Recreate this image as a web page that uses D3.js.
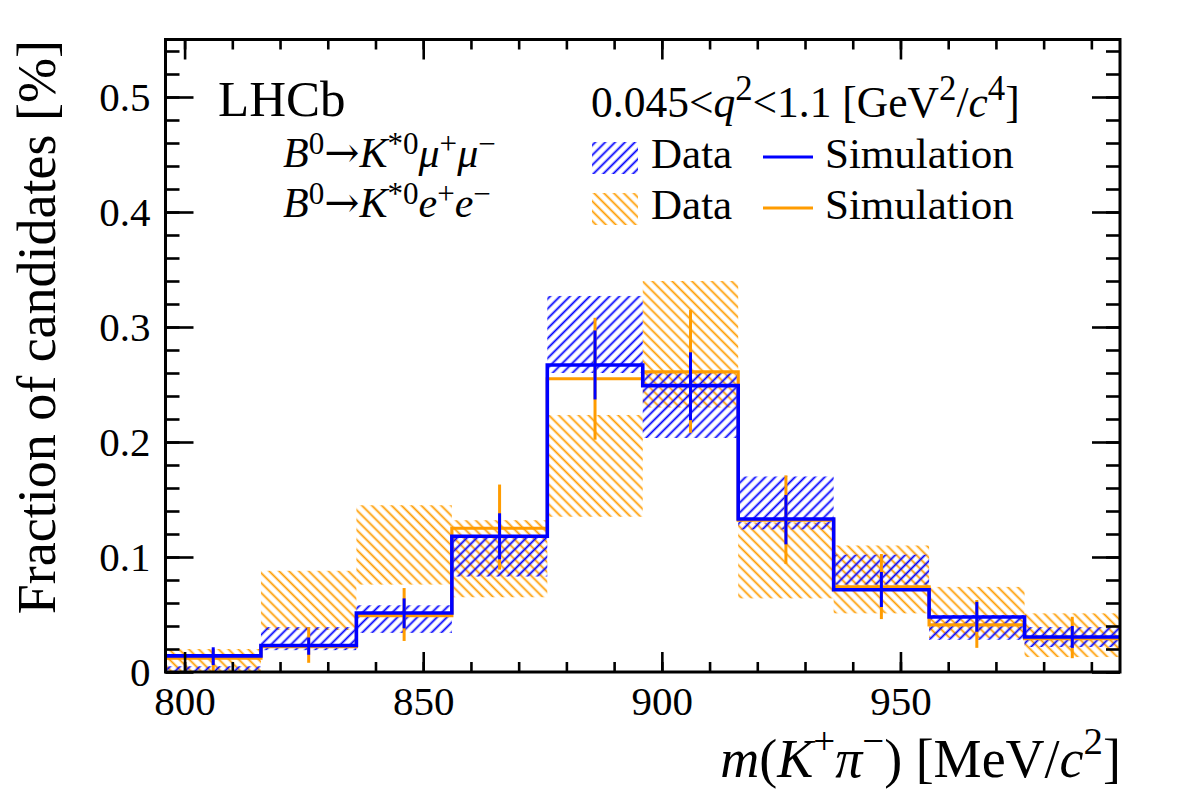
<!DOCTYPE html>
<html>
<head>
<meta charset="utf-8">
<script src="https://cdn.jsdelivr.net/npm/d3@7"></script>
<style>
  html, body { margin: 0; padding: 0; background: #fff; }
  svg { display: block; font-family: "Liberation Serif", "Times New Roman", serif; }
</style>
</head>
<body>
<svg id="chart" width="1182" height="800"></svg>
<script>
// ---------------- data ----------------
const binEdges = [796, 816, 836, 856, 876, 896, 916, 936, 956, 976, 996];

// B0 -> K*0 mu+ mu-  (blue)
const muSim    = [0.0140, 0.0230, 0.0513, 0.1180, 0.2670, 0.2490, 0.1330, 0.0715, 0.0478, 0.0304];
const muSimLo  = [0.0060, 0.0150, 0.0380, 0.0980, 0.2370, 0.2190, 0.1110, 0.0565, 0.0350, 0.0210];
const muSimHi  = [0.0215, 0.0300, 0.0640, 0.1380, 0.2970, 0.2780, 0.1540, 0.0870, 0.0610, 0.0400];
const muDataLo = [0.0000, 0.0190, 0.0340, 0.0830, 0.2600, 0.2035, 0.1240, 0.0760, 0.0280, 0.0217];
const muDataHi = [0.0050, 0.0390, 0.0580, 0.1190, 0.3270, 0.2610, 0.1700, 0.1020, 0.0496, 0.0390];

// B0 -> K*0 e+ e-  (orange)
const eeSim    = [0.0120, 0.0220, 0.0490, 0.1250, 0.2550, 0.2610, 0.1320, 0.0740, 0.0410, 0.0290];
const eeSimLo  = [0.0000, 0.0080, 0.0270, 0.0890, 0.2020, 0.2080, 0.0940, 0.0460, 0.0210, 0.0120];
const eeSimHi  = [0.0200, 0.0390, 0.0730, 0.1630, 0.3080, 0.3150, 0.1710, 0.1026, 0.0626, 0.0480];
const eeDataLo = [0.0000, 0.0365, 0.0760, 0.0650, 0.1350, 0.2300, 0.0640, 0.0510, 0.0296, 0.0130];
const eeDataHi = [0.0200, 0.0880, 0.1450, 0.1320, 0.2235, 0.3400, 0.1300, 0.1100, 0.0740, 0.0510];

const xMajorTicks = [800, 850, 900, 950];
const yMajorTicks = [0, 0.1, 0.2, 0.3, 0.4, 0.5];
const yTickLabels = ["0", "0.1", "0.2", "0.3", "0.4", "0.5"];

// ---------------- setup ----------------
const BLUE = "#0000ff";
const ORANGE = "#ff9c00";
const FONT = "Liberation Serif";

const svg = d3.select("#chart");
const L = 165.5, R = 1120, T = 39.5, B = 672;
const x = d3.scaleLinear().domain([796, 996]).range([L, R]);
const y = d3.scaleLinear().domain([0, 0.55]).range([B, T]);

// hatch patterns
const defs = svg.append("defs");
function hatch(id, color, angle) {
  const s = 7;
  const p = defs.append("pattern")
    .attr("id", id).attr("patternUnits", "userSpaceOnUse")
    .attr("width", s).attr("height", s)
    .attr("patternTransform", `rotate(${angle})`);
  p.append("line").attr("x1", s / 2).attr("y1", 0).attr("x2", s / 2).attr("y2", s)
    .attr("stroke", color).attr("stroke-width", 1.8);
}
hatch("hBlue", BLUE, 45);
hatch("hOrange", ORANGE, -45);

const bins = d3.range(binEdges.length - 1).map(i => ({
  lo: binEdges[i], hi: binEdges[i + 1], c: (binEdges[i] + binEdges[i + 1]) / 2
}));

const plot = svg.append("g");

// data bands (hatched)
function bands(lo, hi, pat) {
  plot.append("g").selectAll("rect").data(bins).join("rect")
    .attr("x", d => x(d.lo))
    .attr("width", d => x(d.hi) - x(d.lo))
    .attr("y", (d, i) => y(hi[i]))
    .attr("height", (d, i) => y(lo[i]) - y(hi[i]))
    .attr("fill", `url(#${pat})`);
}
bands(eeDataLo, eeDataHi, "hOrange");
bands(muDataLo, muDataHi, "hBlue");

// simulation step lines + error bars
function sim(vals, lo, hi, color, w) {
  const pts = bins.map((d, i) => [d.lo, vals[i]]);
  pts.push([bins[bins.length - 1].hi, vals[vals.length - 1]]);
  const line = d3.line().x(d => x(d[0])).y(d => y(d[1])).curve(d3.curveStepAfter);
  plot.append("path").attr("d", line(pts)).attr("fill", "none")
    .attr("stroke", color).attr("stroke-width", w);
  plot.append("g").selectAll("line").data(bins).join("line")
    .attr("x1", d => x(d.c)).attr("x2", d => x(d.c))
    .attr("y1", (d, i) => y(lo[i])).attr("y2", (d, i) => y(hi[i]))
    .attr("stroke", color).attr("stroke-width", 3);
}
sim(eeSim, eeSimLo, eeSimHi, ORANGE, 3.2);
sim(muSim, muSimLo, muSimHi, BLUE, 3.6);

// ---------------- axes ----------------
function styleAxis(g) {
  g.select(".domain").remove();
  g.selectAll(".tick line").attr("stroke", "#000").attr("stroke-width", 2.6);
  g.selectAll("text").attr("font-family", FONT).attr("font-size", 41).attr("fill", "#000");
}
const xMinor = d3.range(800, 996, 10);
const yMinor = d3.range(0, 0.5401, 0.02);

svg.append("g").attr("transform", `translate(0,${B})`)
  .call(d3.axisBottom(x).tickValues(xMinor).tickSizeInner(-10).tickSizeOuter(0).tickFormat(""))
  .call(styleAxis);
svg.append("g").attr("transform", `translate(0,${B})`)
  .call(d3.axisBottom(x).tickValues(xMajorTicks).tickSizeInner(-20).tickSizeOuter(0)
    .tickPadding(14).tickFormat(d3.format("d")))
  .call(styleAxis);
svg.append("g").attr("transform", `translate(0,${T})`)
  .call(d3.axisTop(x).tickValues(xMinor).tickSizeInner(-10).tickSizeOuter(0).tickFormat(""))
  .call(styleAxis);
svg.append("g").attr("transform", `translate(0,${T})`)
  .call(d3.axisTop(x).tickValues(xMajorTicks).tickSizeInner(-20).tickSizeOuter(0).tickFormat(""))
  .call(styleAxis);

svg.append("g").attr("transform", `translate(${L},0)`)
  .call(d3.axisLeft(y).tickValues(yMinor).tickSizeInner(-14).tickSizeOuter(0).tickFormat(""))
  .call(styleAxis);
svg.append("g").attr("transform", `translate(${L},0)`)
  .call(d3.axisLeft(y).tickValues(yMajorTicks).tickSizeInner(-28).tickSizeOuter(0)
    .tickPadding(15).tickFormat((d, i) => yTickLabels[i]))
  .call(styleAxis);
svg.append("g").attr("transform", `translate(${R},0)`)
  .call(d3.axisRight(y).tickValues(yMinor).tickSizeInner(-14).tickSizeOuter(0).tickFormat(""))
  .call(styleAxis);
svg.append("g").attr("transform", `translate(${R},0)`)
  .call(d3.axisRight(y).tickValues(yMajorTicks).tickSizeInner(-28).tickSizeOuter(0).tickFormat(""))
  .call(styleAxis);

// frame
svg.append("rect").attr("x", L).attr("y", T).attr("width", R - L).attr("height", B - T)
  .attr("fill", "none").attr("stroke", "#000").attr("stroke-width", 3);

// ---------------- rich text helper ----------------
function rich(parent, segs, fs, attrs, supScale, supShift) {
  const ss = supScale || 0.72;
  const sh = supShift || 0.42;
  const t = parent.append("text").attr("font-family", FONT).attr("font-size", fs).attr("fill", "#000");
  Object.entries(attrs || {}).forEach(([k, v]) => t.attr(k, v));
  let shift = 0;
  segs.forEach(s => {
    const sp = t.append("tspan").text(s.t);
    const target = s.sup ? -sh * fs : 0;
    if (target !== shift) { sp.attr("dy", target - shift); shift = target; }
    if (s.sup) sp.attr("font-size", fs * ss);
    if (s.i) sp.attr("font-style", "italic");
    if (s.f) sp.attr("font-family", s.f);
  });
  return t;
}

// axis titles
rich(svg, [{t: "Fraction of candidates [%]"}], 54,
  {"text-anchor": "end", transform: "translate(55,40) rotate(-90)"});
rich(svg, [{t: "m", i: 1}, {t: "("}, {t: "K", i: 1}, {t: "+", sup: 1}, {t: "\u03C0", i: 1},
  {t: "\u2212", sup: 1}, {t: ") [MeV/"}, {t: "c", i: 1}, {t: "2", sup: 1}, {t: "]"}], 54,
  {"text-anchor": "end", x: 1121, y: 777});

// labels
rich(svg, [{t: "LHCb"}], 51, {x: 218, y: 116});
const ARROW = {t: "\u2192", f: "DejaVu Serif"};
rich(svg, [{t: "B", i: 1}, {t: "0", sup: 1}, ARROW, {t: "K", i: 1}, {t: "*0", sup: 1},
  {t: "\u03BC", i: 1}, {t: "+", sup: 1}, {t: "\u03BC", i: 1}, {t: "\u2212", sup: 1}], 42,
  {x: 283, y: 167}, 0.74, 0.3);
rich(svg, [{t: "B", i: 1}, {t: "0", sup: 1}, ARROW, {t: "K", i: 1}, {t: "*0", sup: 1},
  {t: "e", i: 1}, {t: "+", sup: 1}, {t: "e", i: 1}, {t: "\u2212", sup: 1}], 42,
  {x: 283, y: 217}, 0.74, 0.3);

// legend
rich(svg, [{t: "0.045<"}, {t: "q", i: 1}, {t: "2", sup: 1}, {t: "<1.1 [GeV"}, {t: "2", sup: 1},
  {t: "/"}, {t: "c", i: 1}, {t: "4", sup: 1}, {t: "]"}], 43.5, {x: 591, y: 117}, 0.8, 0.38);

const legendRows = [
  {pat: "hBlue", color: BLUE, yBox: 142, yLine: 157, yText: 168},
  {pat: "hOrange", color: ORANGE, yBox: 193, yLine: 208, yText: 219}
];
legendRows.forEach(r => {
  svg.append("rect").attr("x", 592).attr("y", r.yBox).attr("width", 46).attr("height", 32)
    .attr("fill", `url(#${r.pat})`);
  rich(svg, [{t: "Data"}], 43, {x: 651, y: r.yText});
  svg.append("line").attr("x1", 763).attr("x2", 813).attr("y1", r.yLine).attr("y2", r.yLine)
    .attr("stroke", r.color).attr("stroke-width", 3);
  rich(svg, [{t: "Simulation"}], 43, {x: 825, y: r.yText});
});
</script>
</body>
</html>
